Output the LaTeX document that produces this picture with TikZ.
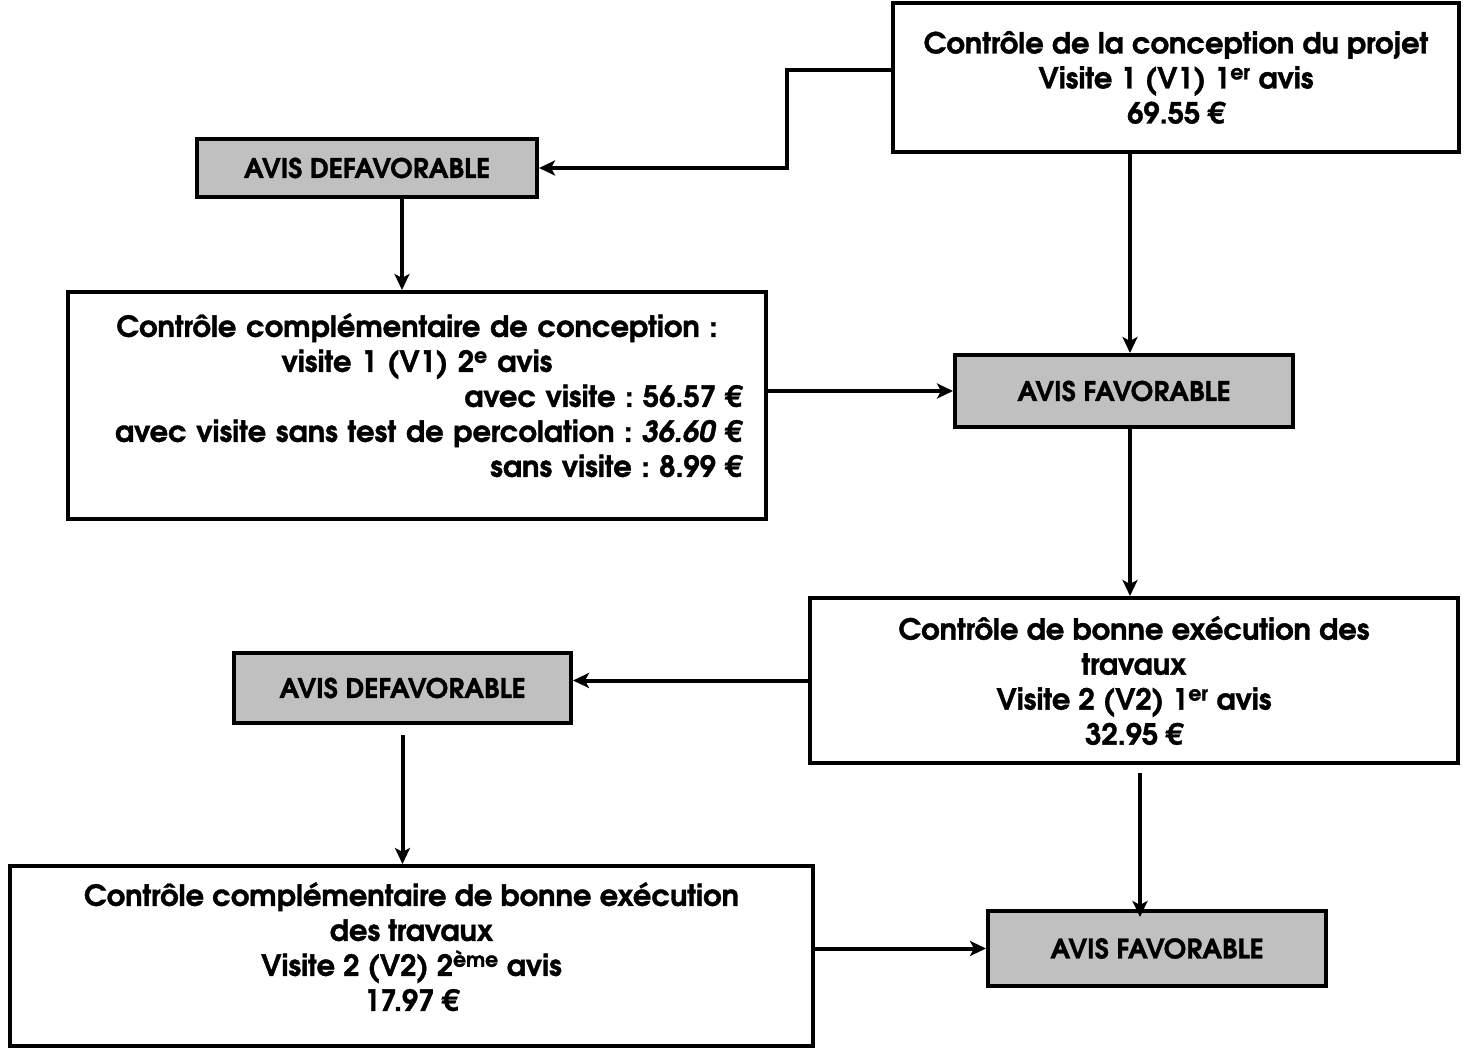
\documentclass[tikz,border=0pt]{standalone}
\usepackage{fontspec}
\setmainfont{texgyreadventor-regular.otf}[BoldFont=texgyreadventor-bold.otf,ItalicFont=texgyreadventor-italic.otf,BoldItalicFont=texgyreadventor-bolditalic.otf,BoldFeatures={FakeBold=1.2},BoldItalicFeatures={FakeBold=1.2}]
\frenchspacing
\newcommand{\expo}[1]{\textsuperscript{#1}}
\usetikzlibrary{arrows.meta}
\definecolor{avisgray}{HTML}{C0C0C0}

\begin{document}
\begin{tikzpicture}[x=1pt,y=-1pt,
  box/.style={draw, line width=4pt, inner sep=0pt, font=\fontsize{29}{35}\selectfont\bfseries},
  avis/.style={box, fill=avisgray, font=\fontsize{27}{30}\selectfont\bfseries},
  arr/.style={line width=4pt, -{Stealth[length=16pt,width=15pt,inset=4pt]}}]
\useasboundingbox (0,0) rectangle (1465,1048);
\node[box, align=center, minimum width=566pt, minimum height=149pt] (V1) at (1176,77.5) {Contrôle de la conception du projet\\Visite 1 (V1) 1\expo{er} avis\\69.55 €};
\node[avis, minimum width=340pt, minimum height=58pt] (DEF1) at (367,168) {AVIS DEFAVORABLE};
\node[box, minimum width=698pt, minimum height=227pt, text width=650pt] (V1b) at (417,405.5) {{\centering Contrôle complémentaire de conception :\\visite 1 (V1) 2\expo{e} avis\par}{\raggedleft avec visite : 56.57 €\\avec visite sans test de percolation : \textit{36.60} €\\sans visite : 8.99 €\rule[-21pt]{0pt}{1pt}\par}};
\node[avis, minimum width=338pt, minimum height=72pt] (FAV1) at (1124,391) {AVIS FAVORABLE};
\node[box, align=center, minimum width=648pt, minimum height=165pt] (V2) at (1134,680.5) {Contrôle de bonne exécution des\\travaux\\Visite 2 (V2) 1\expo{er} avis\\32.95 €};
\node[avis, minimum width=337pt, minimum height=70pt] (DEF2) at (402.5,688) {AVIS DEFAVORABLE};
\node[avis, minimum width=338pt, minimum height=75pt] (FAV2) at (1157,948.5) {AVIS FAVORABLE};
\node[box, align=center, minimum width=803pt, minimum height=180pt] (V2b) at (411.5,956) {Contrôle complémentaire de bonne exécution\\des travaux\\Visite 2 (V2) 2\expo{ème} avis\\17.97 €\rule[-19pt]{0pt}{1pt}};
\coordinate (k1) at (787,70);
\draw[arr] ([yshift=7.5pt]V1.west) -- (k1) |- (DEF1.east);
\draw[arr] ([xshift=35pt]DEF1.south) -- ([xshift=35pt]DEF1.south |- V1b.north);
\draw[arr] ([xshift=6pt]FAV1.north |- V1.south) -- ([xshift=6pt]FAV1.north);
\draw[arr] (V1b.east |- FAV1.west) -- (FAV1.west);
\draw[arr] ([xshift=6pt]FAV1.south) -- ([xshift=6pt]FAV1.south |- V2.north);
\draw[arr] (V2.west) -- (V2.west -| DEF2.east);
\draw[arr] ([yshift=-10pt]DEF2.south) -- (DEF2.south |- V2b.north);
\draw[arr] ([xshift=6pt,yshift=-8pt]V2.south) -- ([xshift=6pt,yshift=-8pt]V2.south |- FAV2.north);
\draw[arr] (V2b.east |- FAV2.west) -- (FAV2.west);
\end{tikzpicture}
\end{document}
